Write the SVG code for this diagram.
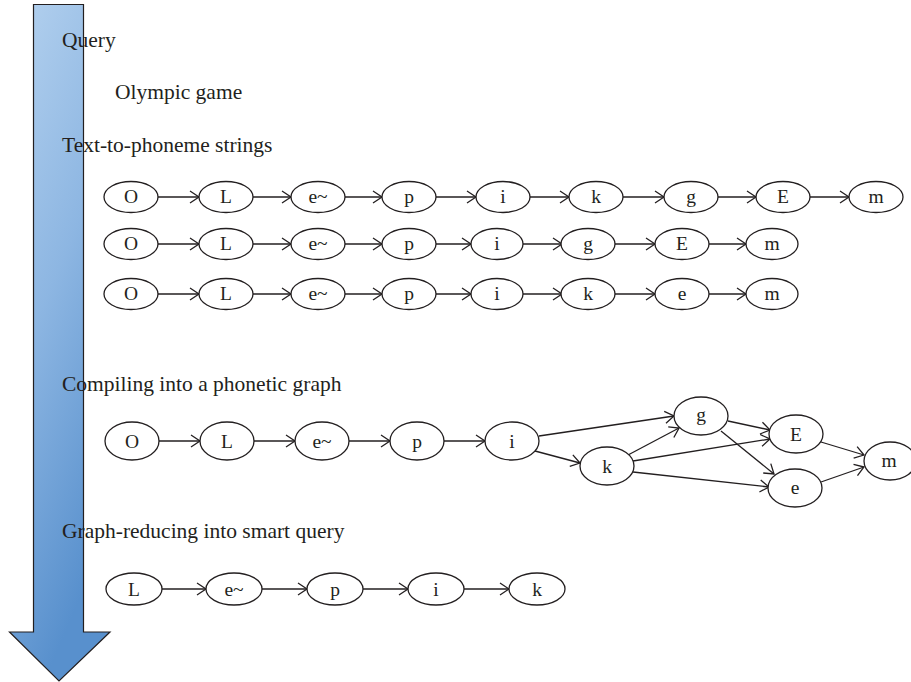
<svg xmlns="http://www.w3.org/2000/svg" width="911" height="682" viewBox="0 0 911 682">
  <defs>
    <linearGradient id="flowFill" x1="0" y1="0" x2="0.35" y2="1">
      <stop offset="0" stop-color="#b5d2ef"/>
      <stop offset="0.5" stop-color="#8db6e2"/>
      <stop offset="1" stop-color="#5890cd"/>
    </linearGradient>
    <marker id="open" markerUnits="userSpaceOnUse" markerWidth="14" markerHeight="14" refX="11" refY="7" orient="auto">
      <path d="M2,1 L11,7 L2,13" fill="none" stroke="#231f20" stroke-width="1.3"/>
    </marker>
  </defs>
  <style>
    .title { font-family: "Liberation Serif", "Times New Roman", serif; font-size: 21.5px; fill: #231f20; }
    .node ellipse { fill: #ffffff; stroke: #231f20; stroke-width: 1.3; }
    .node text { font-family: "Liberation Serif", "Times New Roman", serif; font-size: 19.5px; fill: #231f20; text-anchor: middle; }
    .edges line { stroke: #231f20; stroke-width: 1.3; marker-end: url(#open); }
  </style>
  <rect width="911" height="682" fill="#ffffff"/>

  <!-- process direction arrow -->
  <path id="flow" d="M33.5,4.5 H83.5 V632 H110 L59,681 L9.5,632 H33.5 Z" fill="url(#flowFill)" stroke="#231f20" stroke-width="1.2"/>

  <!-- stage titles -->
  <text class="title" x="62" y="47">Query</text>
  <text class="title" x="115" y="99">Olympic game</text>
  <text class="title" x="62" y="152">Text-to-phoneme strings</text>
  <text class="title" x="62" y="391">Compiling into a phonetic graph</text>
  <text class="title" x="62" y="538">Graph-reducing into smart query</text>

  <!-- connectors -->
  <g class="edges" id="edges">
    <!-- string 1 -->
    <line x1="158" y1="197" x2="199" y2="197"/>
    <line x1="253" y1="197" x2="291" y2="197"/>
    <line x1="345" y1="197" x2="382" y2="197"/>
    <line x1="436" y1="197" x2="476" y2="197"/>
    <line x1="530" y1="197" x2="569" y2="197"/>
    <line x1="623" y1="197" x2="664" y2="197"/>
    <line x1="718" y1="197" x2="756" y2="197"/>
    <line x1="810" y1="197" x2="849" y2="197"/>
    <!-- string 2 -->
    <line x1="158" y1="244" x2="199" y2="244"/>
    <line x1="253" y1="244" x2="291" y2="244"/>
    <line x1="345" y1="244" x2="382" y2="244"/>
    <line x1="436" y1="244" x2="471" y2="244"/>
    <line x1="523" y1="244" x2="562" y2="244"/>
    <line x1="615" y1="244" x2="655" y2="244"/>
    <line x1="709" y1="244" x2="746" y2="244"/>
    <!-- string 3 -->
    <line x1="158" y1="294" x2="199" y2="294"/>
    <line x1="253" y1="294" x2="291" y2="294"/>
    <line x1="345" y1="294" x2="382" y2="294"/>
    <line x1="436" y1="294" x2="471" y2="294"/>
    <line x1="523" y1="294" x2="562" y2="294"/>
    <line x1="615" y1="294" x2="655" y2="294"/>
    <line x1="709" y1="294" x2="746" y2="294"/>
    <!-- phonetic graph -->
    <line x1="159" y1="441" x2="200" y2="441"/>
    <line x1="254" y1="441" x2="295" y2="441"/>
    <line x1="349" y1="441" x2="390" y2="441"/>
    <line x1="444" y1="441" x2="485" y2="441"/>
    <line x1="539" y1="436" x2="674" y2="416"/>
    <line x1="535" y1="451" x2="580" y2="463"/>
    <line x1="628" y1="455" x2="679" y2="428"/>
    <line x1="633" y1="461" x2="770" y2="439"/>
    <line x1="633" y1="472" x2="769" y2="487"/>
    <line x1="728" y1="421" x2="770" y2="430"/>
    <line x1="721" y1="431" x2="774" y2="474"/>
    <line x1="821" y1="442" x2="864" y2="455"/>
    <line x1="821" y1="482" x2="864" y2="467"/>
    <!-- smart query -->
    <line x1="162" y1="589" x2="206" y2="589"/>
    <line x1="262" y1="589" x2="307" y2="589"/>
    <line x1="363" y1="589" x2="408" y2="589"/>
    <line x1="464" y1="589" x2="509" y2="589"/>
  </g>

  <!-- string 1: O L e~ p i k g E m -->
  <g class="node" id="s1-O"><ellipse cx="131" cy="197" rx="27" ry="15.5"/><text x="131" y="203">O</text></g>
  <g class="node" id="s1-L"><ellipse cx="226" cy="197" rx="27" ry="15.5"/><text x="226" y="203">L</text></g>
  <g class="node" id="s1-e"><ellipse cx="318" cy="197" rx="27" ry="15.5"/><text x="318" y="203">e~</text></g>
  <g class="node" id="s1-p"><ellipse cx="409" cy="197" rx="27" ry="15.5"/><text x="409" y="203">p</text></g>
  <g class="node" id="s1-i"><ellipse cx="503" cy="197" rx="27" ry="15.5"/><text x="503" y="203">i</text></g>
  <g class="node" id="s1-k"><ellipse cx="596" cy="197" rx="27" ry="15.5"/><text x="596" y="203">k</text></g>
  <g class="node" id="s1-g"><ellipse cx="691" cy="197" rx="27" ry="15.5"/><text x="691" y="203">g</text></g>
  <g class="node" id="s1-E"><ellipse cx="783" cy="197" rx="27" ry="15.5"/><text x="783" y="203">E</text></g>
  <g class="node" id="s1-m"><ellipse cx="876" cy="197" rx="27" ry="15.5"/><text x="876" y="203">m</text></g>

  <!-- string 2: O L e~ p i g E m -->
  <g class="node" id="s2-O"><ellipse cx="131" cy="244" rx="27" ry="15.5"/><text x="131" y="250">O</text></g>
  <g class="node" id="s2-L"><ellipse cx="226" cy="244" rx="27" ry="15.5"/><text x="226" y="250">L</text></g>
  <g class="node" id="s2-e"><ellipse cx="318" cy="244" rx="27" ry="15.5"/><text x="318" y="250">e~</text></g>
  <g class="node" id="s2-p"><ellipse cx="409" cy="244" rx="27" ry="15.5"/><text x="409" y="250">p</text></g>
  <g class="node" id="s2-i"><ellipse cx="497" cy="244" rx="26" ry="15.5"/><text x="497" y="250">i</text></g>
  <g class="node" id="s2-g"><ellipse cx="588" cy="244" rx="27" ry="15.5"/><text x="588" y="250">g</text></g>
  <g class="node" id="s2-E"><ellipse cx="682" cy="244" rx="27" ry="15.5"/><text x="682" y="250">E</text></g>
  <g class="node" id="s2-m"><ellipse cx="772" cy="244" rx="26" ry="15.5"/><text x="772" y="250">m</text></g>

  <!-- string 3: O L e~ p i k e m -->
  <g class="node" id="s3-O"><ellipse cx="131" cy="294" rx="27" ry="15.5"/><text x="131" y="300">O</text></g>
  <g class="node" id="s3-L"><ellipse cx="226" cy="294" rx="27" ry="15.5"/><text x="226" y="300">L</text></g>
  <g class="node" id="s3-e"><ellipse cx="318" cy="294" rx="27" ry="15.5"/><text x="318" y="300">e~</text></g>
  <g class="node" id="s3-p"><ellipse cx="409" cy="294" rx="27" ry="15.5"/><text x="409" y="300">p</text></g>
  <g class="node" id="s3-i"><ellipse cx="497" cy="294" rx="26" ry="15.5"/><text x="497" y="300">i</text></g>
  <g class="node" id="s3-k"><ellipse cx="588" cy="294" rx="27" ry="15.5"/><text x="588" y="300">k</text></g>
  <g class="node" id="s3-e2"><ellipse cx="682" cy="294" rx="27" ry="15.5"/><text x="682" y="300">e</text></g>
  <g class="node" id="s3-m"><ellipse cx="772" cy="294" rx="26" ry="15.5"/><text x="772" y="300">m</text></g>

  <!-- phonetic graph -->
  <g class="node" id="g-O"><ellipse cx="132" cy="441" rx="27" ry="19"/><text x="132" y="448">O</text></g>
  <g class="node" id="g-L"><ellipse cx="227" cy="441" rx="27" ry="19"/><text x="227" y="448">L</text></g>
  <g class="node" id="g-e"><ellipse cx="322" cy="441" rx="27" ry="19"/><text x="322" y="448">e~</text></g>
  <g class="node" id="g-p"><ellipse cx="417" cy="441" rx="27" ry="19"/><text x="417" y="448">p</text></g>
  <g class="node" id="g-i"><ellipse cx="512" cy="441" rx="27" ry="19"/><text x="512" y="448">i</text></g>
  <g class="node" id="g-k"><ellipse cx="607" cy="466" rx="27" ry="19"/><text x="607" y="473">k</text></g>
  <g class="node" id="g-g"><ellipse cx="701" cy="416" rx="27" ry="19"/><text x="701" y="421">g</text></g>
  <g class="node" id="g-E"><ellipse cx="796" cy="434" rx="27" ry="19"/><text x="796" y="441">E</text></g>
  <g class="node" id="g-e2"><ellipse cx="795" cy="488" rx="27" ry="19"/><text x="795" y="494">e</text></g>
  <g class="node" id="g-m"><ellipse cx="890" cy="461" rx="26" ry="19"/><text x="889" y="467">m</text></g>

  <!-- smart query -->
  <g class="node" id="q-L"><ellipse cx="134" cy="589" rx="28" ry="16"/><text x="134" y="596">L</text></g>
  <g class="node" id="q-e"><ellipse cx="234" cy="589" rx="28" ry="16"/><text x="234" y="596">e~</text></g>
  <g class="node" id="q-p"><ellipse cx="335" cy="589" rx="28" ry="16"/><text x="335" y="596">p</text></g>
  <g class="node" id="q-i"><ellipse cx="436" cy="589" rx="28" ry="16"/><text x="436" y="596">i</text></g>
  <g class="node" id="q-k"><ellipse cx="537" cy="589" rx="28" ry="16"/><text x="537" y="596">k</text></g>
</svg>
